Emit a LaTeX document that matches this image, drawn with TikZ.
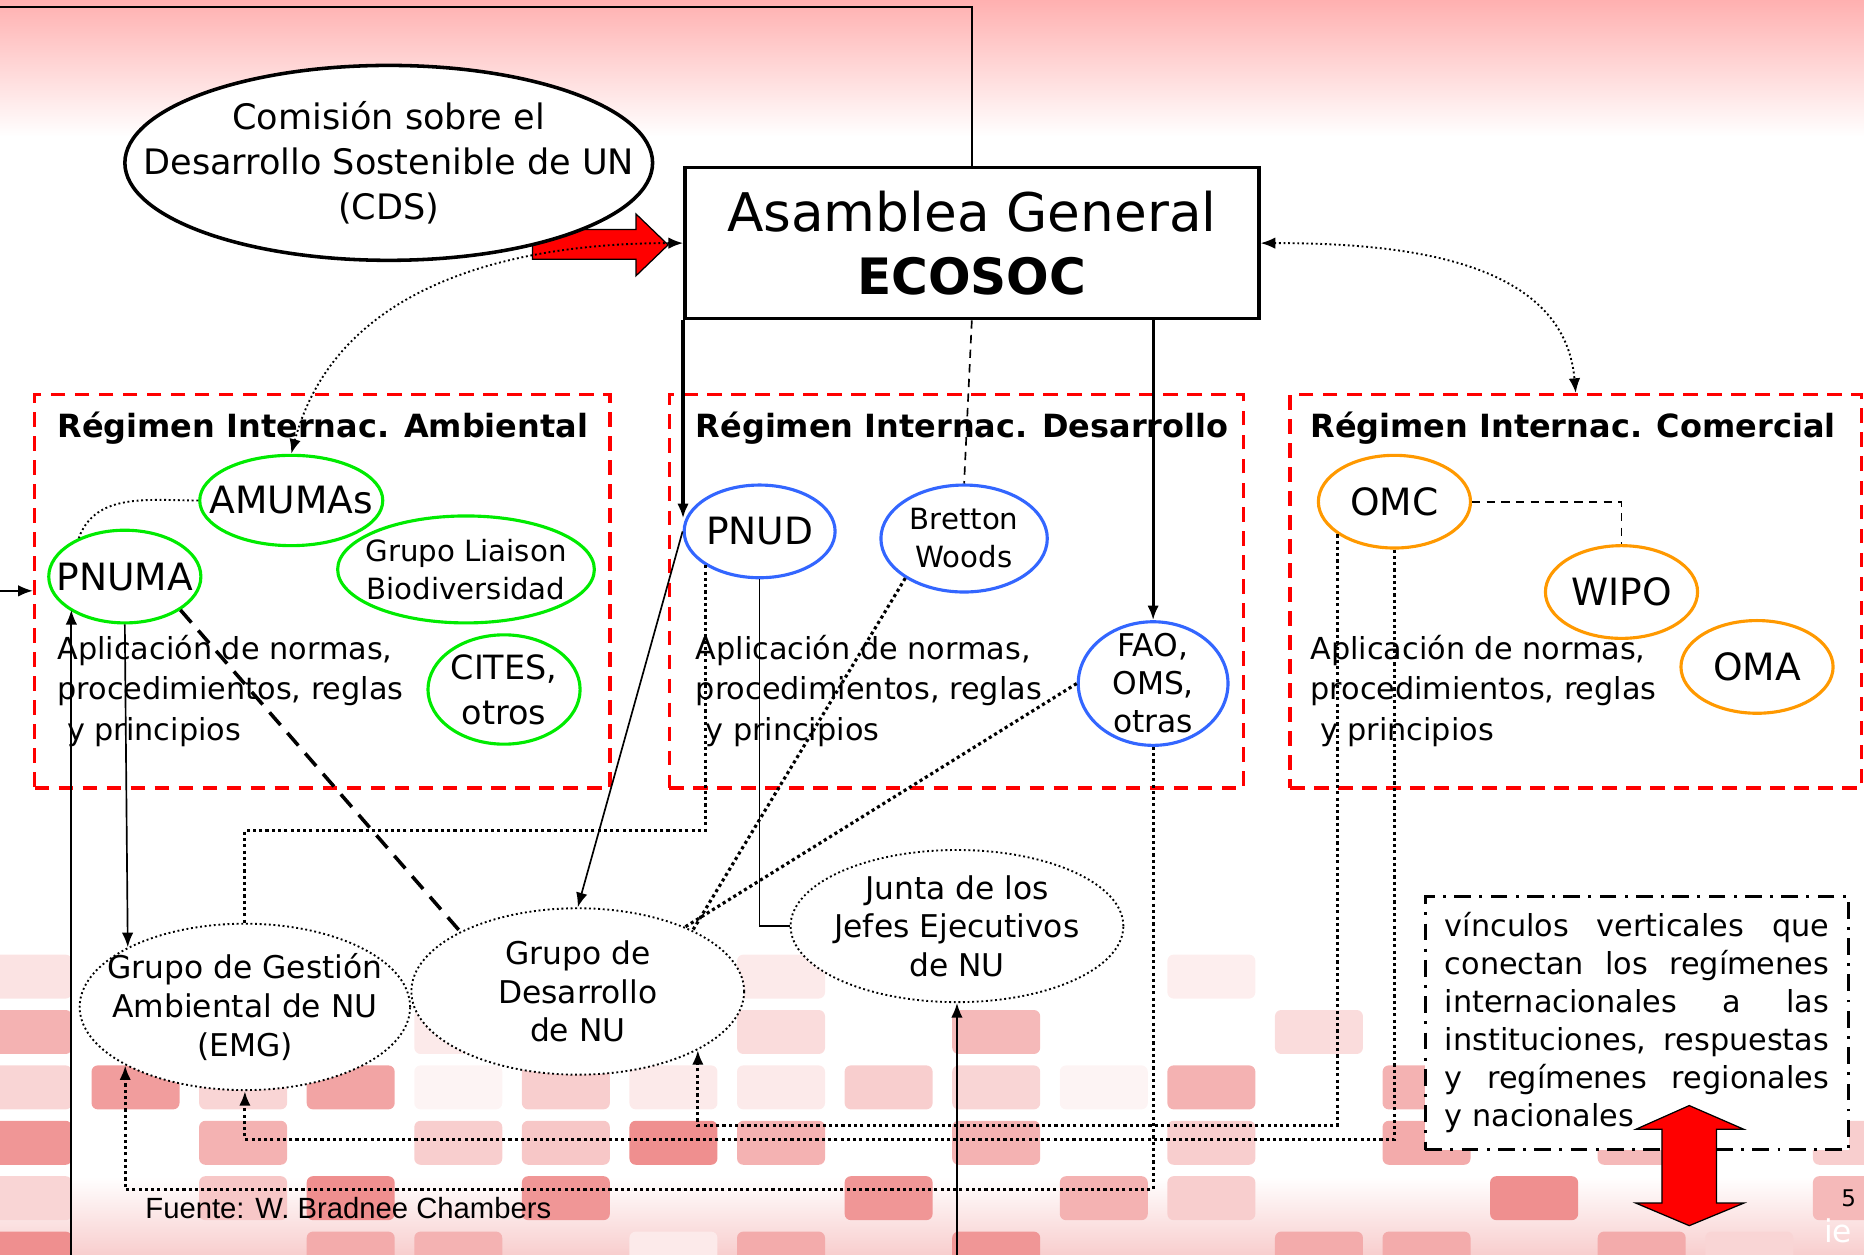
\documentclass[tikz,border=0pt]{standalone}
\usepackage{fontspec}
\setmainfont{DejaVu Sans}
\newfontfamily\sourcefont{Liberation Sans}
\usetikzlibrary{shapes.geometric,arrows.meta}
\definecolor{regred}{RGB}{255,0,0}
\definecolor{ambgreen}{RGB}{0,235,0}
\definecolor{desblue}{RGB}{51,102,255}
\definecolor{comorange}{RGB}{255,153,0}
\definecolor{tile}{RGB}{235,115,115}
\definecolor{toppink}{RGB}{255,176,176}
\begin{document}
\begin{tikzpicture}[x=0.02cm,y=0.02cm,>={Latex[length=7pt,width=5.5pt]}]
\tikzstyle{every node}+=[inner sep=0pt]
\tikzstyle{regime}=[draw=regred,line width=1.7pt,dash pattern=on 7pt off 4.5pt,minimum height=6.62cm]
\tikzstyle{regtitle}=[anchor=base west,font=\bfseries\fontsize{15.3}{18}\selectfont]
\tikzstyle{apltext}=[anchor=north west,align=left,font=\fontsize{14.5}{19.3}\selectfont]
\tikzstyle{ell}=[ellipse,fill=white,line width=1.5pt,inner sep=-3cm,align=center,font=\fontsize{18}{21.6}\selectfont]
\tikzstyle{ambell}=[ell,draw=ambgreen]
\tikzstyle{desell}=[ell,draw=desblue]
\tikzstyle{comell}=[ell,draw=comorange,minimum width=2.56cm,minimum height=1.56cm]
\tikzstyle{unell}=[ell,draw,line width=0.9pt,dash pattern=on 0.9pt off 1.3pt,font=\fontsize{15}{18.5}\selectfont,minimum width=5.6cm,minimum height=2.8cm]
\tikzstyle{dotlink}=[line width=1.5pt,dash pattern=on 1.5pt off 1.5pt]
\tikzstyle{thindot}=[line width=0.9pt,dash pattern=on 0.9pt off 1.3pt]
\tikzstyle{dashlink}=[line width=0.8pt,dash pattern=on 4pt off 3pt]
\tikzstyle{longdash}=[line width=1.7pt,dash pattern=on 8pt off 5pt]
\tikzstyle{thinlink}=[line width=0.8pt]
\tikzstyle{thicklink}=[line width=1.5pt]
\useasboundingbox (0,0) rectangle (1568,-1055);
\shade[top color=toppink,bottom color=white] (0,0) rectangle (1568,-115);
\shade[top color=white,bottom color=tile!35] (0,-990) rectangle (1568,-1055);
\foreach \c/\r/\k in {0/0/20,7/0/15,11/0/12,0/1/55,4/1/15,7/1/25,9/1/50,12/1/25,
  0/2/30,1/2/70,2/2/30,3/2/65,4/2/8,5/2/35,6/2/15,7/2/15,8/2/35,9/2/30,10/2/8,11/2/55,13/2/55,
  0/3/75,2/3/55,4/3/35,5/3/40,6/3/80,7/3/55,9/3/55,11/3/35,13/3/60,15/3/50,17/3/35,
  0/4/30,2/4/40,3/4/80,5/4/75,8/4/75,10/4/55,11/4/35,14/4/80,17/4/50,
  0/5/80,3/5/60,4/5/55,6/5/15,7/5/60,9/5/75,12/5/60,13/5/60,15/5/60,16/5/30}
  \fill[tile!\k,rounded corners=3pt] (90.5*\c-13.5,-803-46.6*\r) rectangle +(74,-37);
\draw[fill=regred,line width=0.6pt] (448,-193) -- (535,-193) -- (535,-180) -- (562,-206) -- (535,-232) -- (535,-218) -- (448,-218) -- cycle;
\node[ell,draw=black,line width=1.7pt,minimum width=8.88cm,minimum height=3.28cm,font=\fontsize{16.8}{21.6}\selectfont] (cds) at (327,-137) {Comisión sobre el\\Desarrollo Sostenible de UN\\(CDS)};
\node[draw,fill=white,line width=1.7pt,minimum width=9.66cm,minimum height=2.54cm,align=center,font=\fontsize{25.5}{30}\selectfont] (ag) at (817.5,-204.5) {Asamblea General\\\fontsize{24}{30}\selectfont\textbf{ECOSOC}};
\node[regime,minimum width=9.68cm] (amb) at (271,-497.5) {};
\node[regime,minimum width=9.66cm] (des) at (804.5,-497.5) {};
\node[regime,minimum width=9.62cm] (com) at (1325.5,-497.5) {};
\node[regtitle] (ambtitle) at (48,-368) {Régimen Internac. Ambiental};
\node[regtitle] (destitle) at (585,-368) {Régimen Internac. Desarrollo};
\node[regtitle] (comtitle) at (1102,-368) {Régimen Internac. Comercial};
\node[apltext] (amblaw) at (48,-534) {Aplicación de normas,\\procedimientos, reglas\\\mbox{ }y principios};
\node[apltext] (deslaw) at (585,-534) {Aplicación de normas,\\procedimientos, reglas\\\mbox{ }y principios};
\node[apltext] (comlaw) at (1102,-534) {Aplicación de normas,\\procedimientos, reglas\\\mbox{ }y principios};
\node[ambell,minimum width=3.08cm,minimum height=1.52cm] (amumas) at (245,-421) {AMUMAs};
\node[ambell,minimum width=2.56cm,minimum height=1.56cm] (pnuma) at (105,-485) {PNUMA};
\node[ambell,minimum width=4.32cm,minimum height=1.8cm,font=\fontsize{14}{18.2}\selectfont] (liaison) at (392,-479) {Grupo Liaison\\Biodiversidad};
\node[ambell,minimum width=2.56cm,minimum height=1.84cm,font=\fontsize{16}{21.6}\selectfont] (cites) at (424,-580) {CITES,\\otros};
\node[desell,minimum width=2.54cm,minimum height=1.56cm] (pnud) at (639,-447) {PNUD};
\node[desell,minimum width=2.8cm,minimum height=1.8cm,font=\fontsize{14}{18.2}\selectfont] (bretton) at (811,-453) {Bretton\\Woods};
\node[desell,minimum width=2.52cm,minimum height=2.08cm,font=\fontsize{15}{18.2}\selectfont] (fao) at (970,-575) {FAO,\\OMS,\\otras};
\node[comell] (omc) at (1173,-422) {OMC};
\node[comell] (wipo) at (1364,-498) {WIPO};
\node[comell] (oma) at (1478,-561) {OMA};
\node[unell,minimum width=5.56cm] (emg) at (206,-847) {Grupo de Gestión\\Ambiental de NU\\(EMG)};
\node[unell] (gdes) at (486,-834) {Grupo de\\Desarrollo\\de NU};
\node[unell,minimum height=2.56cm] (junta) at (805,-779) {Junta de los\\Jefes Ejecutivos\\de NU};
\coordinate (inT) at (0,-6);
\coordinate (inA) at (0,-497);
\coordinate (inL) at (60,-1060);
\coordinate (inJ) at (805,-1060);
\draw[thinlink] (inT) -| (ag.north);
\draw[thinlink,->] (inA) -- (inA -| amb.west);
\draw[thinlink,->] (inL) -- (inL |- pnuma.211);
\draw[thinlink,->] (inJ) -- (junta.south);
\draw[thindot,<->] (ag.west) to[out=180,in=75] (amumas.north);
\draw[thindot,<->] (ag.east) to[out=0,in=95] (com.north);
\draw[dashlink] (ag.south) -- (bretton.north);
\draw[thicklink,->] (ag.south west) -- (ag.south west |- pnud.170);
\draw[thicklink,->] (fao.north |- ag.south) -- (fao.north);
\draw[dashlink] (omc.east) -| (wipo.north);
\draw[thindot] (amumas.west) to[out=180,in=70] (pnuma.140);
\draw[thinlink,->] (pnuma.south) -- (emg.153);
\draw[longdash] (pnuma.-31) -- (gdes.153);
\draw[thinlink,->] (pnud.west) -- (gdes.north);
\draw[dotlink] (pnud.212) -- ++(0,-223) -| (emg.north);
\draw[thinlink] (pnud.south) |- (junta.west);
\draw[dotlink] (bretton.214) -- (gdes.28);
\draw[dotlink] (fao.west) -- (gdes.31);
\draw[dotlink,->] (fao.south) -- ++(0,-372) -| (emg.206);
\draw[dotlink,->] (omc.210) -- ++(0,-497) -| (gdes.-26);
\draw[dotlink,->] (omc.south) -- ++(0,-496) -| (emg.south);
\node[draw,fill=white,line width=1.4pt,dash pattern=on 8pt off 4pt on 1.4pt off 4pt,minimum width=7.12cm,minimum height=4.26cm,text width=184pt,align=justify,font=\fontsize{14.5}{18.2}\selectfont] (vinc) at (1377,-860.5) {vínculos verticales que\linebreak conectan los regímenes\linebreak internacionales a las\linebreak instituciones, respuestas\linebreak y regímenes regionales\linebreak y nacionales};
\draw[fill=regred,line width=0.6pt] (1421,-930) -- (1467,-950) -- (1444,-950) -- (1444,-1012) -- (1467,-1012) -- (1421,-1031) -- (1376,-1012) -- (1398,-1012) -- (1398,-950) -- (1376,-950) -- cycle;
\node[anchor=base west,font=\sourcefont\fontsize{14}{16}\selectfont] (source) at (122,-1025) {Fuente: W. Bradnee Chambers};
\node[font=\fontsize{11}{13}\selectfont] (page) at (1555,-1008) {5};
\node[anchor=base west,text=white,font=\fontsize{15}{15}\selectfont] (logo) at (1534,-1045) {ie};
\end{tikzpicture}
\end{document}
